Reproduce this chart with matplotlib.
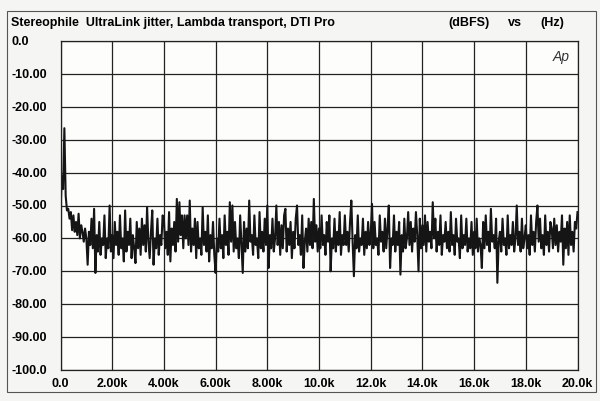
import numpy as np
import matplotlib
matplotlib.use("Agg")
import matplotlib.pyplot as plt
from matplotlib.patches import Rectangle

# spectrum values (dBFS), one value every 50 Hz, one row per kHz
freq_step = 50
level_rows = [
    [-52, -41, -45, -26.5, -47, -51.5, -51, -54, -52, -57.5, -53, -58, -55, -59, -52.5, -60, -56, -58, -61, -57],
    [-60, -68, -58, -62, -54, -63, -51, -70.5, -59, -64, -55, -65, -60, -62, -53, -66, -60, -63, -50, -64],
    [-59, -66, -55, -62, -58, -65, -53, -63, -60, -67, -51.5, -64, -58, -62, -54, -66, -59, -63, -67.5, -55],
    [-63, -57, -65, -54, -62, -56, -64, -50.5, -61, -66, -58, -51.5, -68, -60, -63, -54, -65, -59, -62, -53],
    [-54, -63, -58, -65, -52, -67, -57, -62, -55, -64, -48, -61, -49, -59, -53, -63, -53, -60, -53, -62],
    [-48.5, -64, -57, -62, -54, -66, -55, -63, -60, -65, -50.5, -62, -58, -64, -53, -67, -59, -63, -55, -65],
    [-70.5, -60, -64, -54, -63, -59, -66, -53, -62, -58, -65, -49, -61, -50, -64, -55, -63, -60, -66, -53],
    [-62, -70.5, -55, -64, -57, -63, -48.5, -61, -59, -65, -53, -62, -60, -66, -52, -63, -58, -64, -54, -62],
    [-50, -69, -59, -63, -54, -64, -60, -50, -62, -55, -65, -56, -63, -53, -51, -64, -57, -62, -55, -66],
    [-58, -63, -54, -50, -62, -59, -65, -53, -69, -61, -57, -64, -54, -62, -55, -63, -48, -61, -56, -64],
    [-57, -63, -53, -62, -59, -65, -55, -61, -53, -70, -60, -63, -54, -64, -58, -62, -52, -65, -59, -62],
    [-53, -62, -58, -64, -55, -48.5, -61, -71.5, -59, -63, -53, -64, -60, -62, -54, -65, -58, -63, -55, -62],
    [-59, -49.5, -63, -55, -62, -60, -65, -53, -61, -58, -64, -54, -63, -57, -50, -69, -60, -62, -53, -64],
    [-58, -62, -55, -71, -59, -64, -54, -63, -60, -52, -62, -55, -64, -57, -61, -52, -59, -70, -54, -63],
    [-56, -62, -53, -64, -55, -61, -58, -63, -49, -60, -54, -64, -58, -62, -53, -65, -59, -61, -55, -63],
    [-58, -64, -52, -62, -59, -65, -54, -61, -60, -66, -53, -63, -59, -62, -54, -64, -60, -63, -55, -65],
    [-58, -63, -54, -64, -60, -62, -69, -55, -63, -53, -62, -58, -64, -51, -61, -59, -63, -54, -73.5, -61],
    [-58, -64, -54, -62, -60, -65, -53, -63, -59, -62, -55, -64, -60, -50, -62, -58, -64, -54, -63, -60],
    [-56, -63, -59, -65, -53, -62, -58, -64, -55, -50, -61, -54, -63, -59, -65, -53, -62, -58, -64, -55],
    [-57, -63, -54, -62, -56, -64, -58, -61, -53, -68, -57, -63, -55, -65, -53, -62, -58, -64, -55, -57],
]
last_level = -52

y_ticks = [0, -10, -20, -30, -40, -50, -60, -70, -80, -90, -100]
y_labels = ["0.0", "-10.00", "-20.00", "-30.00", "-40.00", "-50.00",
            "-60.00", "-70.00", "-80.00", "-90.00", "-100.0"]
x_ticks = [0, 2000, 4000, 6000, 8000, 10000, 12000, 14000, 16000, 18000, 20000]
x_labels = ["0.0", "2.00k", "4.00k", "6.00k", "8.00k", "10.0k",
            "12.0k", "14.0k", "16.0k", "18.0k", "20.0k"]

levels = np.array([v for row in level_rows for v in row] + [last_level])
freqs = np.arange(len(levels)) * freq_step

plt.rcParams['font.family'] = ['Liberation Sans', 'DejaVu Sans']
fs = 9

fig = plt.figure(figsize=(6.0, 4.02), dpi=100)
fig.patch.set_facecolor('#f5f5f3')

# outer frame of the printout
fig.patches.append(Rectangle((7 / 600, 1 - 393 / 402), 589 / 600, 381 / 402,
                             transform=fig.transFigure, fill=False,
                             edgecolor='#555555', linewidth=0.8))

ax = fig.add_axes([60.5 / 600, 1 - 371 / 402, 517 / 600, 329 / 402])
ax.set_facecolor('#fdfdfc')
ax.plot(freqs, levels, color='#151515', linewidth=1.5)

ax.set_xlim(0, 20000)
ax.set_ylim(-100, 0)
ax.set_xticks(x_ticks)
ax.set_yticks(y_ticks)
ax.set_xticklabels([])
ax.set_yticklabels([])
ax.tick_params(length=0)
ax.grid(True, color='#222222', linewidth=0.9)
for s in ax.spines.values():
    s.set_color('#222222')
    s.set_linewidth(0.9)

# tick labels placed like the analyzer printout
for v, lab in zip(y_ticks, y_labels):
    ax.annotate(lab, xy=(0, v), xycoords=('figure fraction', 'data'),
                xytext=(11, 0), textcoords='offset pixels',
                ha='left', va='center', fontsize=fs, fontweight='bold')
for v, lab in zip(x_ticks, x_labels):
    ax.annotate(lab, xy=(v, 0), xycoords=('data', 'figure fraction'),
                xytext=(0, 18), textcoords='offset pixels',
                ha='center', va='center', fontsize=fs, fontweight='bold')

title_y = 1 - 23 / 402
fig.text(11 / 600, title_y, "Stereophile  UltraLink jitter, Lambda transport, DTI Pro",
         ha='left', va='center', fontsize=fs, fontweight='bold')
fig.text(448 / 600, title_y, "(dBFS)", ha='left', va='center', fontsize=fs, fontweight='bold')
fig.text(508 / 600, title_y, "vs", ha='left', va='center', fontsize=fs, fontweight='bold')
fig.text(540 / 600, title_y, "(Hz)", ha='left', va='center', fontsize=fs, fontweight='bold')
ax.text(0.985, 0.975, "Ap", transform=ax.transAxes, ha='right', va='top',
        fontsize=10, style='italic', color='#333333', fontweight='light')

fig.savefig("out.png", dpi=100, facecolor=fig.get_facecolor())
